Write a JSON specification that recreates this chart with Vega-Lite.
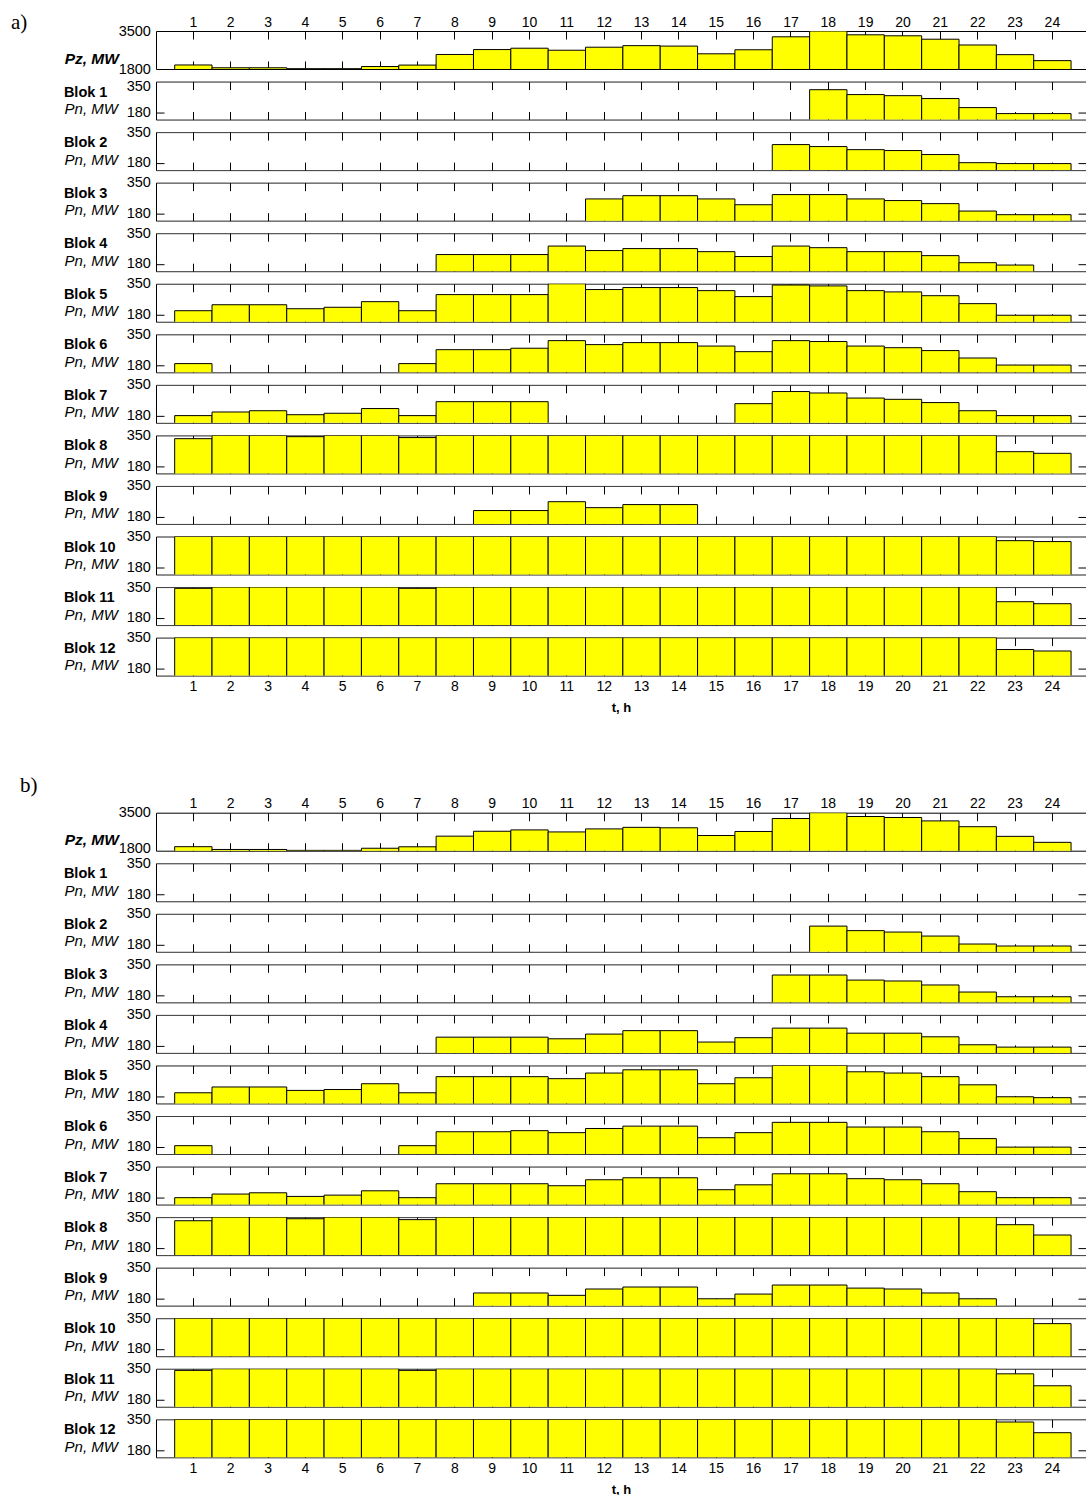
{
  "$schema": "https://vega.github.io/schema/vega-lite/v6.json",
  "padding": {"left": 10, "top": 11, "right": 0, "bottom": 0},
  "bounds": "flush",
  "spacing": 12.55,
  "config": {
    "view": {"stroke": null},
    "font": "Liberation Sans",
    "bar": {"fill": "#ffff00", "stroke": "#000000", "strokeWidth": 1},
    "axis": {
      "ticks": false, "domain": false, "domainColor": "#000000", "domainWidth": 1,
      "grid": true, "gridColor": "#000000", "gridOpacity": 1, "gridWidth": 1,
      "labelFont": "Liberation Sans", "labelFontSize": 14.5, "labelColor": "#000000", "labelOverlap": false,
      "titleFont": "Liberation Sans", "titleColor": "#000000", "titleAngle": 0
    },
    "axisX": {
      "labelAngle": 0, "labelFontSize": 14, "labels": false, "tickBand": "center", "gridDash": [8, 22, 8],
      "titleFontWeight": "bold", "titleFontSize": 14.5, "titleAlign": "left", "titleBaseline": "alphabetic",
      "titleX": -92.6, "titleY": -23.5
    },
    "axisY": {
      "domain": true, "labelPadding": 5.6,
      "titleFontStyle": "italic", "titleFontWeight": "normal", "titleFontSize": 15,
      "titleAlign": "right", "titleBaseline": "alphabetic", "titleX": -38.6, "titleY": 32
    }
  },
  "vconcat": [
    {"data": {"name": "pz"}, "width": 930, "height": 38, "mark": {"type": "bar", "clip": true},
     "encoding": {
       "x": {"field": "t", "type": "ordinal", "scale": {"paddingInner": 0, "paddingOuter": 0.45, "align": 0.5556},
             "axis": {"orient": "top", "labels": true, "labelPadding": 2, "title": "a)", "titleFont": "Liberation Serif", "titleFontSize": 21, "titleFontWeight": "normal", "titleX": -145.6, "titleY": -3}},
       "y": {"field": "p", "type": "quantitative", "scale": {"domain": [1800, 3500], "nice": false, "zero": false},
             "axis": {"values": [1800, 3500], "format": "d", "title": "Pz, MW", "titleFontWeight": "bold", "titleFontSize": 15.5, "titleX": -37.6}}}},
    {"data": {"name": "A"}, "transform": [{"filter": "datum.b == 1"}], "width": 930, "height": 38, "mark": {"type": "bar", "clip": true},
     "encoding": {
       "x": {"field": "t", "type": "ordinal", "scale": {"paddingInner": 0, "paddingOuter": 0.45, "align": 0.5556}, "axis": {"title": "Blok 1"}},
       "y": {"field": "p", "type": "quantitative", "scale": {"domain": [140, 350], "nice": false, "zero": false},
             "axis": {"values": [140, 180, 350], "labelExpr": "datum.value == 140 ? '' : datum.label", "labelOffset": {"condition": {"test": "datum.value == 350", "value": 5}, "value": 0}, "gridDash": {"condition": {"test": "datum.value == 180", "value": [8, 914, 8]}, "value": [1, 0]}, "title": "Pn, MW"}}}},
    {"data": {"name": "A"}, "transform": [{"filter": "datum.b == 2"}], "width": 930, "height": 38, "mark": {"type": "bar", "clip": true},
     "encoding": {
       "x": {"field": "t", "type": "ordinal", "scale": {"paddingInner": 0, "paddingOuter": 0.45, "align": 0.5556}, "axis": {"title": "Blok 2"}},
       "y": {"field": "p", "type": "quantitative", "scale": {"domain": [140, 350], "nice": false, "zero": false},
             "axis": {"values": [140, 180, 350], "labelExpr": "datum.value == 140 ? '' : datum.label", "gridDash": {"condition": {"test": "datum.value == 180", "value": [8, 914, 8]}, "value": [1, 0]}, "title": "Pn, MW"}}}},
    {"data": {"name": "A"}, "transform": [{"filter": "datum.b == 3"}], "width": 930, "height": 38, "mark": {"type": "bar", "clip": true},
     "encoding": {
       "x": {"field": "t", "type": "ordinal", "scale": {"paddingInner": 0, "paddingOuter": 0.45, "align": 0.5556}, "axis": {"title": "Blok 3"}},
       "y": {"field": "p", "type": "quantitative", "scale": {"domain": [140, 350], "nice": false, "zero": false},
             "axis": {"values": [140, 180, 350], "labelExpr": "datum.value == 140 ? '' : datum.label", "gridDash": {"condition": {"test": "datum.value == 180", "value": [8, 914, 8]}, "value": [1, 0]}, "title": "Pn, MW"}}}},
    {"data": {"name": "A"}, "transform": [{"filter": "datum.b == 4"}], "width": 930, "height": 38, "mark": {"type": "bar", "clip": true},
     "encoding": {
       "x": {"field": "t", "type": "ordinal", "scale": {"paddingInner": 0, "paddingOuter": 0.45, "align": 0.5556}, "axis": {"title": "Blok 4"}},
       "y": {"field": "p", "type": "quantitative", "scale": {"domain": [140, 350], "nice": false, "zero": false},
             "axis": {"values": [140, 180, 350], "labelExpr": "datum.value == 140 ? '' : datum.label", "gridDash": {"condition": {"test": "datum.value == 180", "value": [8, 914, 8]}, "value": [1, 0]}, "title": "Pn, MW"}}}},
    {"data": {"name": "A"}, "transform": [{"filter": "datum.b == 5"}], "width": 930, "height": 38, "mark": {"type": "bar", "clip": true},
     "encoding": {
       "x": {"field": "t", "type": "ordinal", "scale": {"paddingInner": 0, "paddingOuter": 0.45, "align": 0.5556}, "axis": {"title": "Blok 5"}},
       "y": {"field": "p", "type": "quantitative", "scale": {"domain": [140, 350], "nice": false, "zero": false},
             "axis": {"values": [140, 180, 350], "labelExpr": "datum.value == 140 ? '' : datum.label", "gridDash": {"condition": {"test": "datum.value == 180", "value": [8, 914, 8]}, "value": [1, 0]}, "title": "Pn, MW"}}}},
    {"data": {"name": "A"}, "transform": [{"filter": "datum.b == 6"}], "width": 930, "height": 38, "mark": {"type": "bar", "clip": true},
     "encoding": {
       "x": {"field": "t", "type": "ordinal", "scale": {"paddingInner": 0, "paddingOuter": 0.45, "align": 0.5556}, "axis": {"title": "Blok 6"}},
       "y": {"field": "p", "type": "quantitative", "scale": {"domain": [140, 350], "nice": false, "zero": false},
             "axis": {"values": [140, 180, 350], "labelExpr": "datum.value == 140 ? '' : datum.label", "gridDash": {"condition": {"test": "datum.value == 180", "value": [8, 914, 8]}, "value": [1, 0]}, "title": "Pn, MW"}}}},
    {"data": {"name": "A"}, "transform": [{"filter": "datum.b == 7"}], "width": 930, "height": 38, "mark": {"type": "bar", "clip": true},
     "encoding": {
       "x": {"field": "t", "type": "ordinal", "scale": {"paddingInner": 0, "paddingOuter": 0.45, "align": 0.5556}, "axis": {"title": "Blok 7"}},
       "y": {"field": "p", "type": "quantitative", "scale": {"domain": [140, 350], "nice": false, "zero": false},
             "axis": {"values": [140, 180, 350], "labelExpr": "datum.value == 140 ? '' : datum.label", "gridDash": {"condition": {"test": "datum.value == 180", "value": [8, 914, 8]}, "value": [1, 0]}, "title": "Pn, MW"}}}},
    {"data": {"name": "A"}, "transform": [{"filter": "datum.b == 8"}], "width": 930, "height": 38, "mark": {"type": "bar", "clip": true},
     "encoding": {
       "x": {"field": "t", "type": "ordinal", "scale": {"paddingInner": 0, "paddingOuter": 0.45, "align": 0.5556}, "axis": {"title": "Blok 8"}},
       "y": {"field": "p", "type": "quantitative", "scale": {"domain": [140, 350], "nice": false, "zero": false},
             "axis": {"values": [140, 180, 350], "labelExpr": "datum.value == 140 ? '' : datum.label", "gridDash": {"condition": {"test": "datum.value == 180", "value": [8, 914, 8]}, "value": [1, 0]}, "title": "Pn, MW"}}}},
    {"data": {"name": "A"}, "transform": [{"filter": "datum.b == 9"}], "width": 930, "height": 38, "mark": {"type": "bar", "clip": true},
     "encoding": {
       "x": {"field": "t", "type": "ordinal", "scale": {"paddingInner": 0, "paddingOuter": 0.45, "align": 0.5556}, "axis": {"title": "Blok 9"}},
       "y": {"field": "p", "type": "quantitative", "scale": {"domain": [140, 350], "nice": false, "zero": false},
             "axis": {"values": [140, 180, 350], "labelExpr": "datum.value == 140 ? '' : datum.label", "gridDash": {"condition": {"test": "datum.value == 180", "value": [8, 914, 8]}, "value": [1, 0]}, "title": "Pn, MW"}}}},
    {"data": {"name": "A"}, "transform": [{"filter": "datum.b == 10"}], "width": 930, "height": 38, "mark": {"type": "bar", "clip": true},
     "encoding": {
       "x": {"field": "t", "type": "ordinal", "scale": {"paddingInner": 0, "paddingOuter": 0.45, "align": 0.5556}, "axis": {"title": "Blok 10"}},
       "y": {"field": "p", "type": "quantitative", "scale": {"domain": [140, 350], "nice": false, "zero": false},
             "axis": {"values": [140, 180, 350], "labelExpr": "datum.value == 140 ? '' : datum.label", "gridDash": {"condition": {"test": "datum.value == 180", "value": [8, 914, 8]}, "value": [1, 0]}, "title": "Pn, MW"}}}},
    {"data": {"name": "A"}, "transform": [{"filter": "datum.b == 11"}], "width": 930, "height": 38, "mark": {"type": "bar", "clip": true},
     "encoding": {
       "x": {"field": "t", "type": "ordinal", "scale": {"paddingInner": 0, "paddingOuter": 0.45, "align": 0.5556}, "axis": {"title": "Blok 11"}},
       "y": {"field": "p", "type": "quantitative", "scale": {"domain": [140, 350], "nice": false, "zero": false},
             "axis": {"values": [140, 180, 350], "labelExpr": "datum.value == 140 ? '' : datum.label", "gridDash": {"condition": {"test": "datum.value == 180", "value": [8, 914, 8]}, "value": [1, 0]}, "title": "Pn, MW"}}}},
    {"data": {"name": "A"}, "transform": [{"filter": "datum.b == 12"}], "width": 930, "height": 38,
     "layer": [
       {"mark": {"type": "bar", "clip": true},
        "encoding": {
          "x": {"field": "t", "type": "ordinal", "scale": {"paddingInner": 0, "paddingOuter": 0.45, "align": 0.5556},
                "axis": {"labels": true, "labelPadding": 4, "title": "t, h", "titleFontSize": 13, "titleAlign": "center", "titleX": 465, "titleY": 36}},
          "y": {"field": "p", "type": "quantitative", "scale": {"domain": [140, 350], "nice": false, "zero": false},
                "axis": {"values": [140, 180, 350], "labelExpr": "datum.value == 140 ? '' : datum.label", "gridDash": {"condition": {"test": "datum.value == 180", "value": [8, 914, 8]}, "value": [1, 0]}, "title": "Pn, MW"}}}},
       {"mark": {"type": "bar", "clip": true, "opacity": 0},
        "encoding": {
          "x": {"field": "t", "type": "ordinal", "axis": {"orient": "top", "grid": false, "title": "Blok 12", "titleY": 14.5}},
          "y": {"field": "p", "type": "quantitative",
                "axis": {"values": [140, 180, 350], "labelExpr": "datum.value == 140 ? '' : datum.label", "gridDash": {"condition": {"test": "datum.value == 180", "value": [8, 914, 8]}, "value": [1, 0]}, "title": "Pn, MW"}}}}
     ],
     "resolve": {"axis": {"x": "independent"}}},
    {"width": 930, "height": 111.9, "data": {"values": []}, "mark": {"type": "point", "opacity": 0}, "encoding": {}},
    {"data": {"name": "pz"}, "width": 930, "height": 38, "mark": {"type": "bar", "clip": true},
     "encoding": {
       "x": {"field": "t", "type": "ordinal", "scale": {"paddingInner": 0, "paddingOuter": 0.45, "align": 0.5556},
             "axis": {"orient": "top", "labels": true, "labelPadding": 2, "title": "b)", "titleFont": "Liberation Serif", "titleFontSize": 21, "titleFontWeight": "normal", "titleX": -136.6, "titleY": -20.9}},
       "y": {"field": "p", "type": "quantitative", "scale": {"domain": [1800, 3500], "nice": false, "zero": false},
             "axis": {"values": [1800, 3500], "format": "d", "labelOffset": {"condition": {"test": "datum.value == 1800", "value": -2}, "value": 0}, "title": "Pz, MW", "titleFontWeight": "bold", "titleFontSize": 15.5, "titleX": -37.6}}}},
    {"data": {"name": "B"}, "transform": [{"filter": "datum.b == 1"}], "width": 930, "height": 38, "mark": {"type": "bar", "clip": true},
     "encoding": {
       "x": {"field": "t", "type": "ordinal", "scale": {"paddingInner": 0, "paddingOuter": 0.45, "align": 0.5556}, "axis": {"title": "Blok 1"}},
       "y": {"field": "p", "type": "quantitative", "scale": {"domain": [140, 350], "nice": false, "zero": false},
             "axis": {"values": [140, 180, 350], "labelExpr": "datum.value == 140 ? '' : datum.label", "gridDash": {"condition": {"test": "datum.value == 180", "value": [8, 914, 8]}, "value": [1, 0]}, "title": "Pn, MW"}}}},
    {"data": {"name": "B"}, "transform": [{"filter": "datum.b == 2"}], "width": 930, "height": 38, "mark": {"type": "bar", "clip": true},
     "encoding": {
       "x": {"field": "t", "type": "ordinal", "scale": {"paddingInner": 0, "paddingOuter": 0.45, "align": 0.5556}, "axis": {"title": "Blok 2"}},
       "y": {"field": "p", "type": "quantitative", "scale": {"domain": [140, 350], "nice": false, "zero": false},
             "axis": {"values": [140, 180, 350], "labelExpr": "datum.value == 140 ? '' : datum.label", "gridDash": {"condition": {"test": "datum.value == 180", "value": [8, 914, 8]}, "value": [1, 0]}, "title": "Pn, MW"}}}},
    {"data": {"name": "B"}, "transform": [{"filter": "datum.b == 3"}], "width": 930, "height": 38, "mark": {"type": "bar", "clip": true},
     "encoding": {
       "x": {"field": "t", "type": "ordinal", "scale": {"paddingInner": 0, "paddingOuter": 0.45, "align": 0.5556}, "axis": {"title": "Blok 3"}},
       "y": {"field": "p", "type": "quantitative", "scale": {"domain": [140, 350], "nice": false, "zero": false},
             "axis": {"values": [140, 180, 350], "labelExpr": "datum.value == 140 ? '' : datum.label", "gridDash": {"condition": {"test": "datum.value == 180", "value": [8, 914, 8]}, "value": [1, 0]}, "title": "Pn, MW"}}}},
    {"data": {"name": "B"}, "transform": [{"filter": "datum.b == 4"}], "width": 930, "height": 38, "mark": {"type": "bar", "clip": true},
     "encoding": {
       "x": {"field": "t", "type": "ordinal", "scale": {"paddingInner": 0, "paddingOuter": 0.45, "align": 0.5556}, "axis": {"title": "Blok 4"}},
       "y": {"field": "p", "type": "quantitative", "scale": {"domain": [140, 350], "nice": false, "zero": false},
             "axis": {"values": [140, 180, 350], "labelExpr": "datum.value == 140 ? '' : datum.label", "gridDash": {"condition": {"test": "datum.value == 180", "value": [8, 914, 8]}, "value": [1, 0]}, "title": "Pn, MW"}}}},
    {"data": {"name": "B"}, "transform": [{"filter": "datum.b == 5"}], "width": 930, "height": 38, "mark": {"type": "bar", "clip": true},
     "encoding": {
       "x": {"field": "t", "type": "ordinal", "scale": {"paddingInner": 0, "paddingOuter": 0.45, "align": 0.5556}, "axis": {"title": "Blok 5"}},
       "y": {"field": "p", "type": "quantitative", "scale": {"domain": [140, 350], "nice": false, "zero": false},
             "axis": {"values": [140, 180, 350], "labelExpr": "datum.value == 140 ? '' : datum.label", "gridDash": {"condition": {"test": "datum.value == 180", "value": [8, 914, 8]}, "value": [1, 0]}, "title": "Pn, MW"}}}},
    {"data": {"name": "B"}, "transform": [{"filter": "datum.b == 6"}], "width": 930, "height": 38, "mark": {"type": "bar", "clip": true},
     "encoding": {
       "x": {"field": "t", "type": "ordinal", "scale": {"paddingInner": 0, "paddingOuter": 0.45, "align": 0.5556}, "axis": {"title": "Blok 6"}},
       "y": {"field": "p", "type": "quantitative", "scale": {"domain": [140, 350], "nice": false, "zero": false},
             "axis": {"values": [140, 180, 350], "labelExpr": "datum.value == 140 ? '' : datum.label", "gridDash": {"condition": {"test": "datum.value == 180", "value": [8, 914, 8]}, "value": [1, 0]}, "title": "Pn, MW"}}}},
    {"data": {"name": "B"}, "transform": [{"filter": "datum.b == 7"}], "width": 930, "height": 38, "mark": {"type": "bar", "clip": true},
     "encoding": {
       "x": {"field": "t", "type": "ordinal", "scale": {"paddingInner": 0, "paddingOuter": 0.45, "align": 0.5556}, "axis": {"title": "Blok 7"}},
       "y": {"field": "p", "type": "quantitative", "scale": {"domain": [140, 350], "nice": false, "zero": false},
             "axis": {"values": [140, 180, 350], "labelExpr": "datum.value == 140 ? '' : datum.label", "gridDash": {"condition": {"test": "datum.value == 180", "value": [8, 914, 8]}, "value": [1, 0]}, "title": "Pn, MW"}}}},
    {"data": {"name": "B"}, "transform": [{"filter": "datum.b == 8"}], "width": 930, "height": 38, "mark": {"type": "bar", "clip": true},
     "encoding": {
       "x": {"field": "t", "type": "ordinal", "scale": {"paddingInner": 0, "paddingOuter": 0.45, "align": 0.5556}, "axis": {"title": "Blok 8"}},
       "y": {"field": "p", "type": "quantitative", "scale": {"domain": [140, 350], "nice": false, "zero": false},
             "axis": {"values": [140, 180, 350], "labelExpr": "datum.value == 140 ? '' : datum.label", "gridDash": {"condition": {"test": "datum.value == 180", "value": [8, 914, 8]}, "value": [1, 0]}, "title": "Pn, MW"}}}},
    {"data": {"name": "B"}, "transform": [{"filter": "datum.b == 9"}], "width": 930, "height": 38, "mark": {"type": "bar", "clip": true},
     "encoding": {
       "x": {"field": "t", "type": "ordinal", "scale": {"paddingInner": 0, "paddingOuter": 0.45, "align": 0.5556}, "axis": {"title": "Blok 9"}},
       "y": {"field": "p", "type": "quantitative", "scale": {"domain": [140, 350], "nice": false, "zero": false},
             "axis": {"values": [140, 180, 350], "labelExpr": "datum.value == 140 ? '' : datum.label", "gridDash": {"condition": {"test": "datum.value == 180", "value": [8, 914, 8]}, "value": [1, 0]}, "title": "Pn, MW"}}}},
    {"data": {"name": "B"}, "transform": [{"filter": "datum.b == 10"}], "width": 930, "height": 38, "mark": {"type": "bar", "clip": true},
     "encoding": {
       "x": {"field": "t", "type": "ordinal", "scale": {"paddingInner": 0, "paddingOuter": 0.45, "align": 0.5556}, "axis": {"title": "Blok 10"}},
       "y": {"field": "p", "type": "quantitative", "scale": {"domain": [140, 350], "nice": false, "zero": false},
             "axis": {"values": [140, 180, 350], "labelExpr": "datum.value == 140 ? '' : datum.label", "gridDash": {"condition": {"test": "datum.value == 180", "value": [8, 914, 8]}, "value": [1, 0]}, "title": "Pn, MW"}}}},
    {"data": {"name": "B"}, "transform": [{"filter": "datum.b == 11"}], "width": 930, "height": 38, "mark": {"type": "bar", "clip": true},
     "encoding": {
       "x": {"field": "t", "type": "ordinal", "scale": {"paddingInner": 0, "paddingOuter": 0.45, "align": 0.5556}, "axis": {"title": "Blok 11"}},
       "y": {"field": "p", "type": "quantitative", "scale": {"domain": [140, 350], "nice": false, "zero": false},
             "axis": {"values": [140, 180, 350], "labelExpr": "datum.value == 140 ? '' : datum.label", "gridDash": {"condition": {"test": "datum.value == 180", "value": [8, 914, 8]}, "value": [1, 0]}, "title": "Pn, MW"}}}},
    {"data": {"name": "B"}, "transform": [{"filter": "datum.b == 12"}], "width": 930, "height": 38,
     "layer": [
       {"mark": {"type": "bar", "clip": true},
        "encoding": {
          "x": {"field": "t", "type": "ordinal", "scale": {"paddingInner": 0, "paddingOuter": 0.45, "align": 0.5556},
                "axis": {"labels": true, "labelPadding": 4, "title": "t, h", "titleFontSize": 13, "titleAlign": "center", "titleX": 465, "titleY": 36}},
          "y": {"field": "p", "type": "quantitative", "scale": {"domain": [140, 350], "nice": false, "zero": false},
                "axis": {"values": [140, 180, 350], "labelExpr": "datum.value == 140 ? '' : datum.label", "gridDash": {"condition": {"test": "datum.value == 180", "value": [8, 914, 8]}, "value": [1, 0]}, "title": "Pn, MW"}}}},
       {"mark": {"type": "bar", "clip": true, "opacity": 0},
        "encoding": {
          "x": {"field": "t", "type": "ordinal", "axis": {"orient": "top", "grid": false, "title": "Blok 12", "titleY": 14.5}},
          "y": {"field": "p", "type": "quantitative",
                "axis": {"values": [140, 180, 350], "labelExpr": "datum.value == 140 ? '' : datum.label", "gridDash": {"condition": {"test": "datum.value == 180", "value": [8, 914, 8]}, "value": [1, 0]}, "title": "Pn, MW"}}}}
     ],
     "resolve": {"axis": {"x": "independent"}}}
  ],
  "datasets": {
    "pz": [
      {"t":1,"p":1980},{"t":2,"p":1855},{"t":3,"p":1855},{"t":4,"p":1815},{"t":5,"p":1815},{"t":6,"p":1910},
      {"t":7,"p":1975},{"t":8,"p":2450},{"t":9,"p":2670},{"t":10,"p":2730},{"t":11,"p":2640},{"t":12,"p":2775},
      {"t":13,"p":2845},{"t":14,"p":2825},{"t":15,"p":2480},{"t":16,"p":2660},{"t":17,"p":3240},{"t":18,"p":3500},
      {"t":19,"p":3330},{"t":20,"p":3285},{"t":21,"p":3133},{"t":22,"p":2874},{"t":23,"p":2442},{"t":24,"p":2174}
    ],
    "A": [
      {"b":1,"t":1,"p":0},{"b":1,"t":2,"p":0},{"b":1,"t":3,"p":0},{"b":1,"t":4,"p":0},{"b":1,"t":5,"p":0},{"b":1,"t":6,"p":0},
      {"b":1,"t":7,"p":0},{"b":1,"t":8,"p":0},{"b":1,"t":9,"p":0},{"b":1,"t":10,"p":0},{"b":1,"t":11,"p":0},{"b":1,"t":12,"p":0},
      {"b":1,"t":13,"p":0},{"b":1,"t":14,"p":0},{"b":1,"t":15,"p":0},{"b":1,"t":16,"p":0},{"b":1,"t":17,"p":0},{"b":1,"t":18,"p":305},
      {"b":1,"t":19,"p":278},{"b":1,"t":20,"p":272},{"b":1,"t":21,"p":256},{"b":1,"t":22,"p":206},{"b":1,"t":23,"p":173},{"b":1,"t":24,"p":173},
      {"b":2,"t":1,"p":0},{"b":2,"t":2,"p":0},{"b":2,"t":3,"p":0},{"b":2,"t":4,"p":0},{"b":2,"t":5,"p":0},{"b":2,"t":6,"p":0},
      {"b":2,"t":7,"p":0},{"b":2,"t":8,"p":0},{"b":2,"t":9,"p":0},{"b":2,"t":10,"p":0},{"b":2,"t":11,"p":0},{"b":2,"t":12,"p":0},
      {"b":2,"t":13,"p":0},{"b":2,"t":14,"p":0},{"b":2,"t":15,"p":0},{"b":2,"t":16,"p":0},{"b":2,"t":17,"p":281},{"b":2,"t":18,"p":270},
      {"b":2,"t":19,"p":253},{"b":2,"t":20,"p":248},{"b":2,"t":21,"p":226},{"b":2,"t":22,"p":181},{"b":2,"t":23,"p":176},{"b":2,"t":24,"p":176},
      {"b":3,"t":1,"p":0},{"b":3,"t":2,"p":0},{"b":3,"t":3,"p":0},{"b":3,"t":4,"p":0},{"b":3,"t":5,"p":0},{"b":3,"t":6,"p":0},
      {"b":3,"t":7,"p":0},{"b":3,"t":8,"p":0},{"b":3,"t":9,"p":0},{"b":3,"t":10,"p":0},{"b":3,"t":11,"p":0},{"b":3,"t":12,"p":260},
      {"b":3,"t":13,"p":278},{"b":3,"t":14,"p":278},{"b":3,"t":15,"p":260},{"b":3,"t":16,"p":228},{"b":3,"t":17,"p":284},{"b":3,"t":18,"p":284},
      {"b":3,"t":19,"p":260},{"b":3,"t":20,"p":251},{"b":3,"t":21,"p":234},{"b":3,"t":22,"p":193},{"b":3,"t":23,"p":173},{"b":3,"t":24,"p":173},
      {"b":4,"t":1,"p":0},{"b":4,"t":2,"p":0},{"b":4,"t":3,"p":0},{"b":4,"t":4,"p":0},{"b":4,"t":5,"p":0},{"b":4,"t":6,"p":0},
      {"b":4,"t":7,"p":0},{"b":4,"t":8,"p":232},{"b":4,"t":9,"p":232},{"b":4,"t":10,"p":232},{"b":4,"t":11,"p":279},{"b":4,"t":12,"p":254},
      {"b":4,"t":13,"p":265},{"b":4,"t":14,"p":265},{"b":4,"t":15,"p":248},{"b":4,"t":16,"p":221},{"b":4,"t":17,"p":279},{"b":4,"t":18,"p":270},
      {"b":4,"t":19,"p":248},{"b":4,"t":20,"p":248},{"b":4,"t":21,"p":226},{"b":4,"t":22,"p":187},{"b":4,"t":23,"p":174},{"b":4,"t":24,"p":0},
      {"b":5,"t":1,"p":201},{"b":5,"t":2,"p":234},{"b":5,"t":3,"p":234},{"b":5,"t":4,"p":212},{"b":5,"t":5,"p":220},{"b":5,"t":6,"p":251},
      {"b":5,"t":7,"p":201},{"b":5,"t":8,"p":290},{"b":5,"t":9,"p":290},{"b":5,"t":10,"p":290},{"b":5,"t":11,"p":350},{"b":5,"t":12,"p":318},
      {"b":5,"t":13,"p":329},{"b":5,"t":14,"p":329},{"b":5,"t":15,"p":312},{"b":5,"t":16,"p":279},{"b":5,"t":17,"p":343},{"b":5,"t":18,"p":338},
      {"b":5,"t":19,"p":312},{"b":5,"t":20,"p":305},{"b":5,"t":21,"p":284},{"b":5,"t":22,"p":240},{"b":5,"t":23,"p":176},{"b":5,"t":24,"p":176},
      {"b":6,"t":1,"p":188},{"b":6,"t":2,"p":0},{"b":6,"t":3,"p":0},{"b":6,"t":4,"p":0},{"b":6,"t":5,"p":0},{"b":6,"t":6,"p":0},
      {"b":6,"t":7,"p":188},{"b":6,"t":8,"p":265},{"b":6,"t":9,"p":265},{"b":6,"t":10,"p":273},{"b":6,"t":11,"p":315},{"b":6,"t":12,"p":293},
      {"b":6,"t":13,"p":304},{"b":6,"t":14,"p":304},{"b":6,"t":15,"p":285},{"b":6,"t":16,"p":254},{"b":6,"t":17,"p":315},{"b":6,"t":18,"p":310},
      {"b":6,"t":19,"p":285},{"b":6,"t":20,"p":276},{"b":6,"t":21,"p":260},{"b":6,"t":22,"p":219},{"b":6,"t":23,"p":180},{"b":6,"t":24,"p":180},
      {"b":7,"t":1,"p":180},{"b":7,"t":2,"p":200},{"b":7,"t":3,"p":207},{"b":7,"t":4,"p":185},{"b":7,"t":5,"p":193},{"b":7,"t":6,"p":219},
      {"b":7,"t":7,"p":180},{"b":7,"t":8,"p":257},{"b":7,"t":9,"p":257},{"b":7,"t":10,"p":257},{"b":7,"t":11,"p":0},{"b":7,"t":12,"p":0},
      {"b":7,"t":13,"p":0},{"b":7,"t":14,"p":0},{"b":7,"t":15,"p":0},{"b":7,"t":16,"p":246},{"b":7,"t":17,"p":313},{"b":7,"t":18,"p":305},
      {"b":7,"t":19,"p":277},{"b":7,"t":20,"p":270},{"b":7,"t":21,"p":252},{"b":7,"t":22,"p":207},{"b":7,"t":23,"p":180},{"b":7,"t":24,"p":180},
      {"b":8,"t":1,"p":332},{"b":8,"t":2,"p":350},{"b":8,"t":3,"p":350},{"b":8,"t":4,"p":343},{"b":8,"t":5,"p":350},{"b":8,"t":6,"p":350},
      {"b":8,"t":7,"p":338},{"b":8,"t":8,"p":350},{"b":8,"t":9,"p":350},{"b":8,"t":10,"p":350},{"b":8,"t":11,"p":350},{"b":8,"t":12,"p":350},
      {"b":8,"t":13,"p":350},{"b":8,"t":14,"p":350},{"b":8,"t":15,"p":350},{"b":8,"t":16,"p":350},{"b":8,"t":17,"p":350},{"b":8,"t":18,"p":350},
      {"b":8,"t":19,"p":350},{"b":8,"t":20,"p":350},{"b":8,"t":21,"p":350},{"b":8,"t":22,"p":350},{"b":8,"t":23,"p":260},{"b":8,"t":24,"p":251},
      {"b":9,"t":1,"p":0},{"b":9,"t":2,"p":0},{"b":9,"t":3,"p":0},{"b":9,"t":4,"p":0},{"b":9,"t":5,"p":0},{"b":9,"t":6,"p":0},
      {"b":9,"t":7,"p":0},{"b":9,"t":8,"p":0},{"b":9,"t":9,"p":214},{"b":9,"t":10,"p":214},{"b":9,"t":11,"p":263},{"b":9,"t":12,"p":230},
      {"b":9,"t":13,"p":247},{"b":9,"t":14,"p":247},{"b":9,"t":15,"p":0},{"b":9,"t":16,"p":0},{"b":9,"t":17,"p":0},{"b":9,"t":18,"p":0},
      {"b":9,"t":19,"p":0},{"b":9,"t":20,"p":0},{"b":9,"t":21,"p":0},{"b":9,"t":22,"p":0},{"b":9,"t":23,"p":0},{"b":9,"t":24,"p":0},
      {"b":10,"t":1,"p":350},{"b":10,"t":2,"p":350},{"b":10,"t":3,"p":350},{"b":10,"t":4,"p":350},{"b":10,"t":5,"p":350},{"b":10,"t":6,"p":350},
      {"b":10,"t":7,"p":350},{"b":10,"t":8,"p":350},{"b":10,"t":9,"p":350},{"b":10,"t":10,"p":350},{"b":10,"t":11,"p":350},{"b":10,"t":12,"p":350},
      {"b":10,"t":13,"p":350},{"b":10,"t":14,"p":350},{"b":10,"t":15,"p":350},{"b":10,"t":16,"p":350},{"b":10,"t":17,"p":350},{"b":10,"t":18,"p":350},
      {"b":10,"t":19,"p":350},{"b":10,"t":20,"p":350},{"b":10,"t":21,"p":350},{"b":10,"t":22,"p":350},{"b":10,"t":23,"p":327},{"b":10,"t":24,"p":322},
      {"b":11,"t":1,"p":343},{"b":11,"t":2,"p":350},{"b":11,"t":3,"p":350},{"b":11,"t":4,"p":350},{"b":11,"t":5,"p":350},{"b":11,"t":6,"p":350},
      {"b":11,"t":7,"p":343},{"b":11,"t":8,"p":350},{"b":11,"t":9,"p":350},{"b":11,"t":10,"p":350},{"b":11,"t":11,"p":350},{"b":11,"t":12,"p":350},
      {"b":11,"t":13,"p":350},{"b":11,"t":14,"p":350},{"b":11,"t":15,"p":350},{"b":11,"t":16,"p":350},{"b":11,"t":17,"p":350},{"b":11,"t":18,"p":350},
      {"b":11,"t":19,"p":350},{"b":11,"t":20,"p":350},{"b":11,"t":21,"p":350},{"b":11,"t":22,"p":350},{"b":11,"t":23,"p":269},{"b":11,"t":24,"p":258},
      {"b":12,"t":1,"p":350},{"b":12,"t":2,"p":350},{"b":12,"t":3,"p":350},{"b":12,"t":4,"p":350},{"b":12,"t":5,"p":350},{"b":12,"t":6,"p":350},
      {"b":12,"t":7,"p":350},{"b":12,"t":8,"p":350},{"b":12,"t":9,"p":350},{"b":12,"t":10,"p":350},{"b":12,"t":11,"p":350},{"b":12,"t":12,"p":350},
      {"b":12,"t":13,"p":350},{"b":12,"t":14,"p":350},{"b":12,"t":15,"p":350},{"b":12,"t":16,"p":350},{"b":12,"t":17,"p":350},{"b":12,"t":18,"p":350},
      {"b":12,"t":19,"p":350},{"b":12,"t":20,"p":350},{"b":12,"t":21,"p":350},{"b":12,"t":22,"p":350},{"b":12,"t":23,"p":284},{"b":12,"t":24,"p":276}
    ],
    "B": [
      {"b":1,"t":1,"p":0},{"b":1,"t":2,"p":0},{"b":1,"t":3,"p":0},{"b":1,"t":4,"p":0},{"b":1,"t":5,"p":0},{"b":1,"t":6,"p":0},
      {"b":1,"t":7,"p":0},{"b":1,"t":8,"p":0},{"b":1,"t":9,"p":0},{"b":1,"t":10,"p":0},{"b":1,"t":11,"p":0},{"b":1,"t":12,"p":0},
      {"b":1,"t":13,"p":0},{"b":1,"t":14,"p":0},{"b":1,"t":15,"p":0},{"b":1,"t":16,"p":0},{"b":1,"t":17,"p":0},{"b":1,"t":18,"p":0},
      {"b":1,"t":19,"p":0},{"b":1,"t":20,"p":0},{"b":1,"t":21,"p":0},{"b":1,"t":22,"p":0},{"b":1,"t":23,"p":0},{"b":1,"t":24,"p":0},
      {"b":2,"t":1,"p":0},{"b":2,"t":2,"p":0},{"b":2,"t":3,"p":0},{"b":2,"t":4,"p":0},{"b":2,"t":5,"p":0},{"b":2,"t":6,"p":0},
      {"b":2,"t":7,"p":0},{"b":2,"t":8,"p":0},{"b":2,"t":9,"p":0},{"b":2,"t":10,"p":0},{"b":2,"t":11,"p":0},{"b":2,"t":12,"p":0},
      {"b":2,"t":13,"p":0},{"b":2,"t":14,"p":0},{"b":2,"t":15,"p":0},{"b":2,"t":16,"p":0},{"b":2,"t":17,"p":0},{"b":2,"t":18,"p":282},
      {"b":2,"t":19,"p":257},{"b":2,"t":20,"p":249},{"b":2,"t":21,"p":227},{"b":2,"t":22,"p":183},{"b":2,"t":23,"p":172},{"b":2,"t":24,"p":172},
      {"b":3,"t":1,"p":0},{"b":3,"t":2,"p":0},{"b":3,"t":3,"p":0},{"b":3,"t":4,"p":0},{"b":3,"t":5,"p":0},{"b":3,"t":6,"p":0},
      {"b":3,"t":7,"p":0},{"b":3,"t":8,"p":0},{"b":3,"t":9,"p":0},{"b":3,"t":10,"p":0},{"b":3,"t":11,"p":0},{"b":3,"t":12,"p":0},
      {"b":3,"t":13,"p":0},{"b":3,"t":14,"p":0},{"b":3,"t":15,"p":0},{"b":3,"t":16,"p":0},{"b":3,"t":17,"p":291},{"b":3,"t":18,"p":291},
      {"b":3,"t":19,"p":263},{"b":3,"t":20,"p":258},{"b":3,"t":21,"p":236},{"b":3,"t":22,"p":197},{"b":3,"t":23,"p":171},{"b":3,"t":24,"p":171},
      {"b":4,"t":1,"p":0},{"b":4,"t":2,"p":0},{"b":4,"t":3,"p":0},{"b":4,"t":4,"p":0},{"b":4,"t":5,"p":0},{"b":4,"t":6,"p":0},
      {"b":4,"t":7,"p":0},{"b":4,"t":8,"p":227},{"b":4,"t":9,"p":227},{"b":4,"t":10,"p":227},{"b":4,"t":11,"p":218},{"b":4,"t":12,"p":244},
      {"b":4,"t":13,"p":263},{"b":4,"t":14,"p":263},{"b":4,"t":15,"p":200},{"b":4,"t":16,"p":224},{"b":4,"t":17,"p":277},{"b":4,"t":18,"p":277},
      {"b":4,"t":19,"p":249},{"b":4,"t":20,"p":249},{"b":4,"t":21,"p":229},{"b":4,"t":22,"p":185},{"b":4,"t":23,"p":172},{"b":4,"t":24,"p":172},
      {"b":5,"t":1,"p":199},{"b":5,"t":2,"p":231},{"b":5,"t":3,"p":231},{"b":5,"t":4,"p":212},{"b":5,"t":5,"p":217},{"b":5,"t":6,"p":249},
      {"b":5,"t":7,"p":199},{"b":5,"t":8,"p":288},{"b":5,"t":9,"p":288},{"b":5,"t":10,"p":288},{"b":5,"t":11,"p":277},{"b":5,"t":12,"p":308},
      {"b":5,"t":13,"p":326},{"b":5,"t":14,"p":326},{"b":5,"t":15,"p":249},{"b":5,"t":16,"p":282},{"b":5,"t":17,"p":350},{"b":5,"t":18,"p":350},
      {"b":5,"t":19,"p":315},{"b":5,"t":20,"p":308},{"b":5,"t":21,"p":288},{"b":5,"t":22,"p":243},{"b":5,"t":23,"p":177},{"b":5,"t":24,"p":172},
      {"b":6,"t":1,"p":186},{"b":6,"t":2,"p":0},{"b":6,"t":3,"p":0},{"b":6,"t":4,"p":0},{"b":6,"t":5,"p":0},{"b":6,"t":6,"p":0},
      {"b":6,"t":7,"p":186},{"b":6,"t":8,"p":263},{"b":6,"t":9,"p":263},{"b":6,"t":10,"p":269},{"b":6,"t":11,"p":258},{"b":6,"t":12,"p":281},
      {"b":6,"t":13,"p":294},{"b":6,"t":14,"p":294},{"b":6,"t":15,"p":230},{"b":6,"t":16,"p":258},{"b":6,"t":17,"p":315},{"b":6,"t":18,"p":315},
      {"b":6,"t":19,"p":289},{"b":6,"t":20,"p":289},{"b":6,"t":21,"p":263},{"b":6,"t":22,"p":225},{"b":6,"t":23,"p":178},{"b":6,"t":24,"p":178},
      {"b":7,"t":1,"p":178},{"b":7,"t":2,"p":198},{"b":7,"t":3,"p":205},{"b":7,"t":4,"p":185},{"b":7,"t":5,"p":192},{"b":7,"t":6,"p":216},
      {"b":7,"t":7,"p":178},{"b":7,"t":8,"p":255},{"b":7,"t":9,"p":255},{"b":7,"t":10,"p":255},{"b":7,"t":11,"p":244},{"b":7,"t":12,"p":277},
      {"b":7,"t":13,"p":288},{"b":7,"t":14,"p":288},{"b":7,"t":15,"p":222},{"b":7,"t":16,"p":249},{"b":7,"t":17,"p":310},{"b":7,"t":18,"p":310},
      {"b":7,"t":19,"p":283},{"b":7,"t":20,"p":277},{"b":7,"t":21,"p":255},{"b":7,"t":22,"p":211},{"b":7,"t":23,"p":178},{"b":7,"t":24,"p":178},
      {"b":8,"t":1,"p":330},{"b":8,"t":2,"p":350},{"b":8,"t":3,"p":350},{"b":8,"t":4,"p":341},{"b":8,"t":5,"p":350},{"b":8,"t":6,"p":350},
      {"b":8,"t":7,"p":336},{"b":8,"t":8,"p":350},{"b":8,"t":9,"p":350},{"b":8,"t":10,"p":350},{"b":8,"t":11,"p":350},{"b":8,"t":12,"p":350},
      {"b":8,"t":13,"p":350},{"b":8,"t":14,"p":350},{"b":8,"t":15,"p":350},{"b":8,"t":16,"p":350},{"b":8,"t":17,"p":350},{"b":8,"t":18,"p":350},
      {"b":8,"t":19,"p":350},{"b":8,"t":20,"p":350},{"b":8,"t":21,"p":350},{"b":8,"t":22,"p":350},{"b":8,"t":23,"p":308},{"b":8,"t":24,"p":251},
      {"b":9,"t":1,"p":0},{"b":9,"t":2,"p":0},{"b":9,"t":3,"p":0},{"b":9,"t":4,"p":0},{"b":9,"t":5,"p":0},{"b":9,"t":6,"p":0},
      {"b":9,"t":7,"p":0},{"b":9,"t":8,"p":0},{"b":9,"t":9,"p":210},{"b":9,"t":10,"p":210},{"b":9,"t":11,"p":197},{"b":9,"t":12,"p":232},
      {"b":9,"t":13,"p":243},{"b":9,"t":14,"p":243},{"b":9,"t":15,"p":178},{"b":9,"t":16,"p":204},{"b":9,"t":17,"p":254},{"b":9,"t":18,"p":254},
      {"b":9,"t":19,"p":237},{"b":9,"t":20,"p":232},{"b":9,"t":21,"p":210},{"b":9,"t":22,"p":178},{"b":9,"t":23,"p":0},{"b":9,"t":24,"p":0},
      {"b":10,"t":1,"p":350},{"b":10,"t":2,"p":350},{"b":10,"t":3,"p":350},{"b":10,"t":4,"p":350},{"b":10,"t":5,"p":350},{"b":10,"t":6,"p":350},
      {"b":10,"t":7,"p":350},{"b":10,"t":8,"p":350},{"b":10,"t":9,"p":350},{"b":10,"t":10,"p":350},{"b":10,"t":11,"p":350},{"b":10,"t":12,"p":350},
      {"b":10,"t":13,"p":350},{"b":10,"t":14,"p":350},{"b":10,"t":15,"p":350},{"b":10,"t":16,"p":350},{"b":10,"t":17,"p":350},{"b":10,"t":18,"p":350},
      {"b":10,"t":19,"p":350},{"b":10,"t":20,"p":350},{"b":10,"t":21,"p":350},{"b":10,"t":22,"p":350},{"b":10,"t":23,"p":350},{"b":10,"t":24,"p":320},
      {"b":11,"t":1,"p":341},{"b":11,"t":2,"p":350},{"b":11,"t":3,"p":350},{"b":11,"t":4,"p":350},{"b":11,"t":5,"p":350},{"b":11,"t":6,"p":350},
      {"b":11,"t":7,"p":341},{"b":11,"t":8,"p":350},{"b":11,"t":9,"p":350},{"b":11,"t":10,"p":350},{"b":11,"t":11,"p":350},{"b":11,"t":12,"p":350},
      {"b":11,"t":13,"p":350},{"b":11,"t":14,"p":350},{"b":11,"t":15,"p":350},{"b":11,"t":16,"p":350},{"b":11,"t":17,"p":350},{"b":11,"t":18,"p":350},
      {"b":11,"t":19,"p":350},{"b":11,"t":20,"p":350},{"b":11,"t":21,"p":350},{"b":11,"t":22,"p":350},{"b":11,"t":23,"p":322},{"b":11,"t":24,"p":256},
      {"b":12,"t":1,"p":350},{"b":12,"t":2,"p":350},{"b":12,"t":3,"p":350},{"b":12,"t":4,"p":350},{"b":12,"t":5,"p":350},{"b":12,"t":6,"p":350},
      {"b":12,"t":7,"p":350},{"b":12,"t":8,"p":350},{"b":12,"t":9,"p":350},{"b":12,"t":10,"p":350},{"b":12,"t":11,"p":350},{"b":12,"t":12,"p":350},
      {"b":12,"t":13,"p":350},{"b":12,"t":14,"p":350},{"b":12,"t":15,"p":350},{"b":12,"t":16,"p":350},{"b":12,"t":17,"p":350},{"b":12,"t":18,"p":350},
      {"b":12,"t":19,"p":350},{"b":12,"t":20,"p":350},{"b":12,"t":21,"p":350},{"b":12,"t":22,"p":350},{"b":12,"t":23,"p":335},{"b":12,"t":24,"p":276}
    ]
  }
}
